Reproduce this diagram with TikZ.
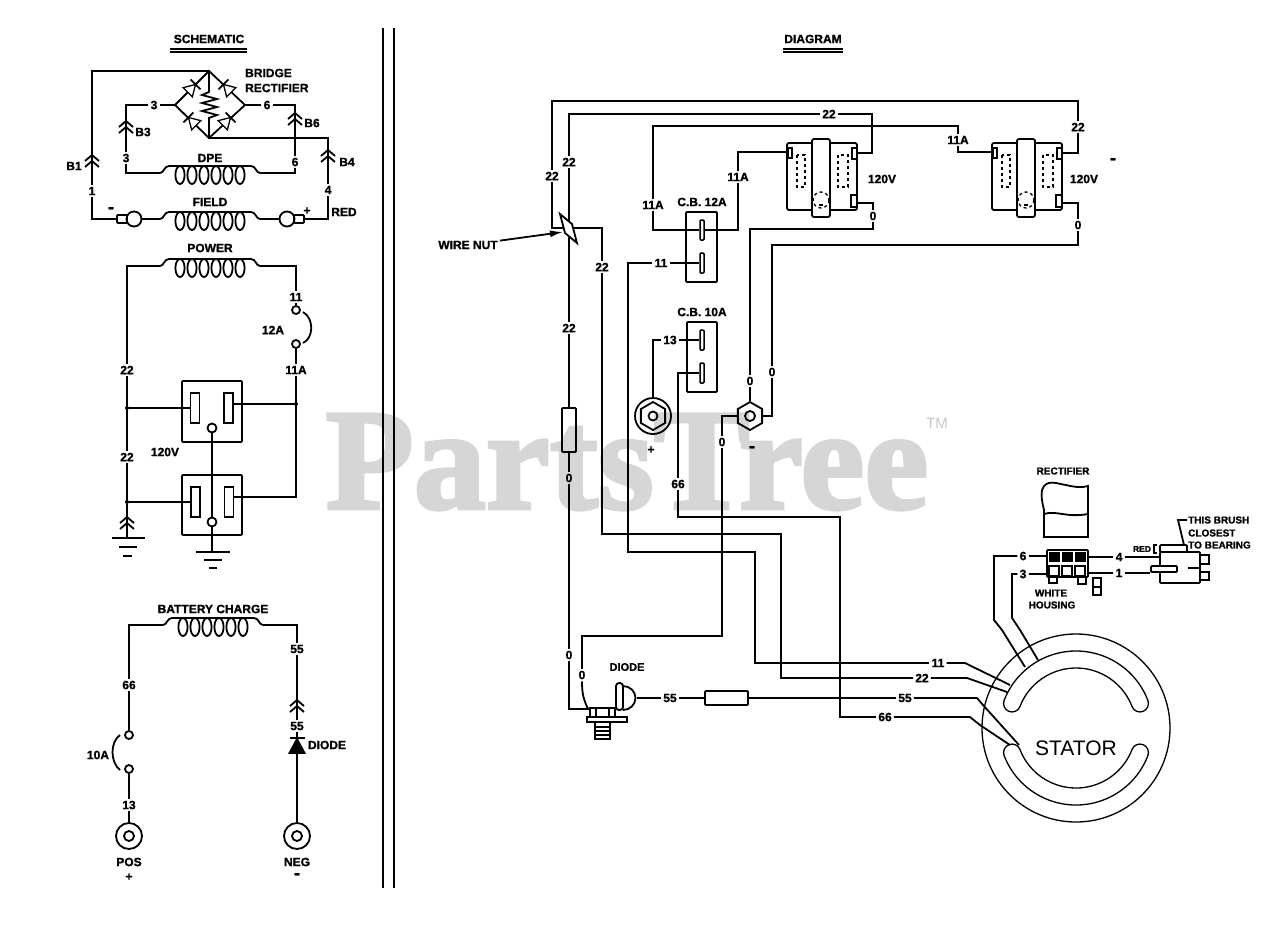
\documentclass[tikz,border=0pt]{standalone}
\usepackage{fontspec}
\setmainfont{Liberation Sans}[BoldFeatures={FakeBold=1.2}]
\newfontfamily\wmfont{Liberation Serif}[BoldFeatures={FakeBold=2.5}]
\usetikzlibrary{arrows.meta,shapes.geometric}
\tikzset{
  wire/.style={line width=1.8pt,line join=miter},
  thinw/.style={line width=1.3pt},
  lbl/.style={font=\bfseries\fontsize{12}{12}\selectfont,inner sep=2pt},
  sml/.style={font=\bfseries\fontsize{10}{10}\selectfont,inner sep=1pt},
  dashlbl/.style={font=\bfseries\fontsize{18}{18}\selectfont,inner sep=0pt},
  term/.style={circle,draw,line width=1.8pt,minimum size=8pt,inner sep=0pt},
  ringnode/.style={circle,draw,line width=1.8pt,minimum size=26pt,inner sep=0pt},
  jdot/.style={circle,fill,minimum size=4pt,inner sep=0pt},
  slotbox/.style={rectangle,draw,line width=1.8pt,minimum width=9pt,minimum height=30pt,inner sep=0pt},
  cbslot/.style={rectangle,draw,fill=white,line width=1.5pt,rounded corners=1pt,minimum width=4pt,minimum height=20pt,inner sep=0pt},
  boxnode/.style={rectangle,draw,line width=1.8pt,rounded corners=1pt,inner sep=0pt},
  hexnut/.style={regular polygon,regular polygon sides=6,shape border rotate=30,draw,line width=1.8pt,minimum size=28pt,inner sep=0pt},
  coil/.pic={
    \draw[wire] (-50,7) .. controls (-46,7) and (-46,0) .. (-41,0) -- (41,0) .. controls (46,0) and (46,7) .. (50,7);
    \foreach \cx in {-30,-18,-6,6,18,30} \draw[wire] (\cx,9) ellipse (4.6 and 9);
    \coordinate (-w) at (-50,7);
    \coordinate (-e) at (50,7);
  },
  plug/.pic={
    \draw[wire] (-7,1) -- (0,-5) -- (7,1) (-7,7) -- (0,1) -- (7,7);
  },
  brdiode/.pic={
    \draw[thinw,fill=white] (-6,-6.5) -- (5,0) -- (-6,6.5) -- cycle;
    \draw[wire] (5,-7) -- (5,7);
  },
  recep/.pic={
    \draw[wire,rounded corners=2pt] (0,0) rectangle (70,67);
    \draw[wire,rounded corners=2pt,fill=white] (25,-4) rectangle (43,74);
    \draw[thinw,fill=white] (1,5) rectangle (5,15);
    \draw[thinw,fill=white] (65,5) rectangle (70,16);
    \draw[wire,fill=white] (64,52) rectangle (70,64);
    \draw[thinw,dashed] (10,12) rectangle (18,44);
    \draw[thinw,dashed] (51,12) rectangle (61,44);
    \draw[thinw,dashed] (34,57) circle (8);
    \fill (32,61) rectangle (36,63);
    \coordinate (-a) at (0,9);
    \coordinate (-b) at (70,10);
    \coordinate (-c) at (70,60);
  }
}
\begin{document}
\begin{tikzpicture}[x=1pt,y=-1pt]
  \useasboundingbox (0,0) rectangle (1280,930);
  % watermark
  \node[text=black!16,font=\wmfont\bfseries\fontsize{144}{144}\selectfont,inner sep=0pt] (wmark) at (627,462) {PartsTree};
  \node[text=black!22,font=\fontsize{15}{15}\selectfont,inner sep=0pt] (wmtm) at (937,423) {TM};

  % divider
  \draw[line width=1.8pt] (383,28) -- (383,888);
  \draw[line width=1.8pt] (394,28) -- (394,888);

  % titles
  \node[lbl] (nSchem) at (209,39) {SCHEMATIC};
  \node[lbl] (nDiag) at (813,39) {DIAGRAM};
  \draw[thinw] (170,49) -- (247,49) (170,52) -- (247,52);
  \draw[thinw] (783,49) -- (843,49) (783,52) -- (843,52);

  % ---- schematic: bridge and field
  \coordinate (brT) at (209,71);
  \coordinate (brL) at (175,105);
  \coordinate (brR) at (245,105);
  \coordinate (brB) at (209,138);
  \draw[wire] (brT) -- (brL) -- (brB) -- (brR) -- cycle;
  \pic[rotate=45] (dA) at (192,88) {brdiode};
  \pic[rotate=135] (dB) at (227,88) {brdiode};
  \pic[rotate=135] (dC) at (192,121) {brdiode};
  \pic[rotate=45] (dD) at (227,121) {brdiode};
  \draw[wire] (brT) -- (209,92) -- (202,95) -- (217,99) -- (202,103) -- (217,107) -- (202,111) -- (217,115) -- (209,118) -- (brB);
  \node[lbl,anchor=west] (nBridge) at (243,73) {BRIDGE};
  \node[lbl,anchor=west] (nRect) at (243,88) {RECTIFIER};

  \node[lbl] (n3a) at (154,105) {3};
  \node[lbl] (n6a) at (267,105) {6};
  \node[lbl] (n3b) at (126,158) {3};
  \node[lbl] (n6b) at (295,162) {6};
  \node[lbl] (n1) at (92,191) {1};
  \node[lbl] (n4) at (328,190) {4};
  \node[lbl] (nB1) at (74,166) {B1};
  \node[lbl] (nB3) at (143,132) {B3};
  \node[lbl] (nB6) at (312,123) {B6};
  \node[lbl] (nB4) at (347,162) {B4};
  \node[lbl] (nDpe) at (210,158) {DPE};
  \node[lbl] (nField) at (210,202) {FIELD};
  \node[lbl] (nRed) at (344,212) {RED};
  \node[dashlbl] (nFm) at (111,210) {-};
  \node[lbl] (nFp) at (307,211) {+};

  \pic (cDpe) at (210,166) {coil};
  \pic (cField) at (210,212) {coil};
  \pic at (92,160) {plug};
  \pic at (126,126) {plug};
  \pic at (295,118) {plug};
  \pic at (328,155) {plug};

  \node[circle,draw,line width=1.8pt,minimum size=15pt,inner sep=0pt] (brushL) at (134,219) {};
  \node[circle,draw,line width=1.8pt,minimum size=15pt,inner sep=0pt] (brushR) at (287,219) {};
  \node[boxnode,minimum width=10pt,minimum height=8pt] (capL) at (122,219) {};
  \node[boxnode,minimum width=10pt,minimum height=8pt] (capR) at (299,219) {};

  \draw[wire] (brT) -- (92,71) -- (n1);
  \draw[wire] (n1) -- (92,219) -- (capL);
  \draw[wire] (brushL) -- (cField-w);
  \draw[wire] (cField-e) -- (brushR);
  \draw[wire] (capR) -- (328,219) -- (n4);
  \draw[wire] (n4) -- (328,138) -- (brB);
  \draw[wire] (brL) -- (n3a) -- (126,105) -- (n3b);
  \draw[wire] (n3b) -- (126,173) -- (cDpe-w);
  \draw[wire] (brR) -- (n6a) -- (295,105) -- (n6b);
  \draw[wire] (n6b) -- (295,173) -- (cDpe-e);

  % ---- schematic: power
  \node[lbl] (nPower) at (210,248) {POWER};
  \pic (cPower) at (210,259) {coil};
  \node[lbl] (n11s) at (296,297) {11};
  \node[term] (t11) at (296,310) {};
  \node[term] (t11a) at (296,344) {};
  \node[lbl] (n12a) at (273,330) {12A};
  \node[lbl] (n11as) at (296,370) {11A};
  \node[lbl] (n22u) at (127,370) {22};
  \node[lbl] (n22l) at (127,457) {22};
  \node[lbl] (n120s) at (165,452) {120V};
  \node[boxnode,minimum width=60pt,minimum height=61pt] (outA) at (212,411.5) {};
  \node[boxnode,minimum width=60pt,minimum height=60pt] (outB) at (212,505) {};
  \node[slotbox] (slAl) at (195,408) {};
  \node[slotbox] (slAr) at (228.5,408) {};
  \node[slotbox] (slBl) at (195.5,502) {};
  \node[slotbox] (slBr) at (229,502) {};
  \node[term,fill=white,minimum size=9pt] (gA) at (212,428) {};
  \node[term,fill=white,minimum size=9pt] (gB) at (212,522) {};
  \node[jdot] (jA) at (127,408) {};
  \node[jdot] (jB) at (127,502) {};
  \node[jdot] (jC) at (296,404) {};
  \coordinate (gndL) at (127,538);
  \coordinate (gndB) at (212,552);
  \pic at (127,522) {plug};

  \draw[wire] (cPower-w) -- (127,266) -- (n22u);
  \draw[wire] (n22u) -- (jA) -- (n22l);
  \draw[wire] (n22l) -- (jB) -- (gndL);
  \draw[wire] (cPower-e) -- (296,266) -- (n11s) -- (t11);
  \draw[wire] (t11a) -- (n11as);
  \draw[wire] (n11as) -- (296,497) -- (234,497);
  \draw[wire] (jA) -- (slAl);
  \draw[wire] (jB) -- (slBl);
  \draw[wire] (jC) -- (jC -| slAr.east);
  \draw[wire] (gA) -- (gB);
  \draw[wire] (gB) -- (gndB);
  \draw[wire] (303,312) .. controls (314,318) and (314,338) .. (303,343);
  \draw[wire] (112,538) -- (145,538);
  \draw[wire] (119,547) -- (137,547);
  \draw[wire] (123,556) -- (132,556);
  \draw[wire] (196,552) -- (230,552);
  \draw[wire] (204,560) -- (222,560);
  \draw[wire] (209,568) -- (217,568);

  % ---- schematic: battery charge
  \node[lbl] (nBatt) at (213,609) {BATTERY CHARGE};
  \pic (cBatt) at (213,618) {coil};
  \node[lbl] (n66s) at (129,685) {66};
  \node[term] (t10a) at (129,735) {};
  \node[term] (t10b) at (129,769) {};
  \node[lbl] (n10a) at (98,755) {10A};
  \node[lbl] (n13s) at (129,805) {13};
  \node[ringnode] (pos) at (129,836) {};
  \node[term,minimum size=10pt] (posin) at (129,836) {};
  \node[lbl] (nPos) at (129,862) {POS};
  \node[lbl] (nPlus) at (129,877) {+};
  \node[lbl] (n55a) at (297,649) {55};
  \node[lbl] (n55b) at (297,726) {55};
  \node[lbl] (nDiodeS) at (327,745) {DIODE};
  \node[ringnode] (neg) at (297,836) {};
  \node[term,minimum size=10pt] (negin) at (297,836) {};
  \node[lbl] (nNeg) at (297,862) {NEG};
  \node[dashlbl] (nMinus) at (297,876) {-};
  \coordinate (dTop) at (297,738);
  \coordinate (dBot) at (297,753);
  \pic at (297,705) {plug};
  \draw[wire,fill] (289.5,753) -- (304.5,753) -- (297,739) -- cycle;
  \draw[wire] (289.5,738) -- (304.5,738);

  \draw[wire] (cBatt-w) -- (129,625) -- (n66s) -- (t10a);
  \draw[wire] (t10b) -- (n13s) -- (pos);
  \draw[wire] (120,735) .. controls (110,742) and (110,762) .. (120,770);
  \draw[wire] (cBatt-e) -- (297,625) -- (n55a) -- (n55b) -- (dTop);
  \draw[wire] (neg) -- (dBot);

  % ---- diagram: outlets
  \pic (recA) at (787,143) {recep};
  \pic (recB) at (992,143) {recep};
  \node[lbl] (n120a) at (882,179) {120V};
  \node[lbl] (n120b) at (1084,179) {120V};
  \node[dashlbl] (nDash) at (1113,161) {-};

  % ---- diagram: breakers and posts
  \node[lbl] (nCb12) at (702,202) {C.B. 12A};
  \node[boxnode,minimum width=31pt,minimum height=70pt] (cb12) at (701.5,247) {};
  \node[cbslot] (cb12a) at (702,230) {};
  \node[cbslot] (cb12b) at (702,263) {};
  \node[lbl] (nCb10) at (702,312) {C.B. 10A};
  \node[boxnode,minimum width=30pt,minimum height=70pt] (cb10) at (702,357) {};
  \node[cbslot] (cb10a) at (702,340) {};
  \node[cbslot] (cb10b) at (702,373) {};
  \node[hexnut] (nutP) at (653,416) {};
  \node[circle,draw,line width=1.8pt,minimum size=36pt,inner sep=0pt] (ringP) at (653,416) {};
  \node[term,minimum size=9pt] (holeP) at (653,416) {};
  \node[hexnut] (nutM) at (750,416) {};
  \node[term,minimum size=10pt] (holeM) at (750,416) {};
  \node[lbl] (nPlusD) at (651,450) {+};
  \node[dashlbl] (nMinusD) at (752,449) {-};

  % ---- diagram: wire labels
  \node[lbl] (w22a) at (552,176) {22};
  \node[lbl] (w22b) at (569,162) {22};
  \node[lbl] (w22c) at (602,267) {22};
  \node[lbl] (w22d) at (569,328) {22};
  \node[lbl] (w22e) at (829,114) {22};
  \node[lbl] (w22f) at (1078,127) {22};
  \node[lbl] (w22g) at (922,678) {22};
  \node[lbl] (w11a) at (653,205) {11A};
  \node[lbl] (w11b) at (738,177) {11A};
  \node[lbl] (w11c) at (958,140) {11A};
  \node[lbl] (w11d) at (661,263) {11};
  \node[lbl] (w11e) at (938,663) {11};
  \node[lbl] (w13) at (670,340) {13};
  \node[lbl] (w66a) at (678,484) {66};
  \node[lbl] (w66b) at (885,717) {66};
  \node[lbl] (w55a) at (670,698) {55};
  \node[lbl] (w55b) at (905,698) {55};
  \node[lbl] (w0a) at (873,216) {0};
  \node[lbl] (w0b) at (1078,225) {0};
  \node[lbl] (w0c) at (750,381) {0};
  \node[lbl] (w0d) at (772,372) {0};
  \node[lbl] (w0e) at (722,442) {0};
  \node[lbl] (w0f) at (569,478) {0};
  \node[lbl] (w0g) at (569,655) {0};
  \node[lbl] (w0h) at (582,675) {0};
  \node[lbl] (nWnut) at (468,245) {WIRE NUT};
  \node[boxnode,minimum width=14pt,minimum height=44pt] (fuseA) at (569,430) {};
  \node[boxnode,minimum width=43pt,minimum height=14pt] (fuseB) at (726.5,698) {};
  \node[lbl,font=\bfseries\fontsize{11}{11}\selectfont] (nDiodeD) at (627,667) {DIODE};
  \coordinate (wnut) at (563,232);
  \coordinate (lugA) at (590,709);
  \coordinate (lugB) at (588,709);
  \coordinate (dome) at (637,698);

  % ---- diagram: wires
  \draw[wire] (w22a) -- (552,101) -- (1078,101) -- (w22f);
  \draw[wire] (w22f) -- (1078,153) -- (recB-b);
  \draw[wire] (w22a) -- (552,228) -- (602,228) -- (w22c);
  \draw[wire] (w22c) -- (602,534) -- (781,534) -- (781,678) -- (w22g);
  \draw[wire] (w22g) -- (967,678) -- (1007,692);
  \draw[wire] (w22b) -- (569,114) -- (w22e) -- (872,114) -- (872,153) -- (recA-b);
  \draw[wire] (w22b) -- (w22d);
  \draw[wire] (w22d) -- (fuseA);
  \draw[wire] (fuseA) -- (w0f);
  \draw[wire] (w0f) -- (w0g);
  \draw[wire] (w0g) -- (569,709) -- (lugA);
  \draw[wire] (cb12a) -- (653,230) -- (w11a);
  \draw[wire] (w11a) -- (653,126) -- (958,126) -- (w11c);
  \draw[wire] (w11c) -- (958,152) -- (recB-a);
  \draw[wire] (cb12a) -- (738,230) -- (w11b);
  \draw[wire] (w11b) -- (738,152) -- (recA-a);
  \draw[wire] (cb12b) -- (w11d) -- (628,263) -- (628,552) -- (755,552) -- (755,663) -- (w11e);
  \draw[wire] (w11e) -- (965,663) -- (1010,685);
  \draw[wire] (cb10a) -- (w13) -- (653,340) -- (ringP);
  \draw[wire] (cb10b) -- (678,373) -- (w66a);
  \draw[wire] (w66a) -- (678,517) -- (840,517) -- (840,717) -- (w66b);
  \draw[wire] (w66b) -- (970,717) -- (980,725) -- (1010,745);
  \draw[wire] (dome) -- (w55a) -- (fuseB);
  \draw[wire] (fuseB) -- (w55b);
  \draw[wire] (w55b) -- (977,698) -- (983,705) -- (1019,745);
  \draw[wire] (recA-c) -- (873,203) -- (w0a);
  \draw[wire] (w0a) -- (873,229) -- (750,229) -- (w0c);
  \draw[wire] (w0c) -- (nutM);
  \draw[wire] (recB-c) -- (1078,203) -- (w0b);
  \draw[wire] (w0b) -- (1078,245) -- (772,245) -- (w0d);
  \draw[wire] (w0d) -- (772,416) -- (nutM);
  \draw[wire] (nutM) -- (722,416) -- (w0e);
  \draw[wire] (w0e) -- (722,636) -- (582,636) -- (w0h);
  \draw[wire] (w0h) .. controls (582,695) and (584,700) .. (lugB);

  % wire nut
  \draw[wire,fill=white] (560,214) -- (572,224) -- (577,243) -- (565,233) -- cycle;
  \draw[-{Latex[length=13pt,width=7pt]},wire] (nWnut) -- (wnut);

  % diode and bolt
  \draw[wire] (587,717) -- (627,717) -- (627,722) -- (587,722) -- cycle;
  \draw[wire] (590,708) rectangle (615,717);
  \draw[thinw] (596,708) -- (596,717) (609,708) -- (609,717);
  \draw[wire] (595,722) rectangle (610,739);
  \draw[thinw] (595,727) -- (610,727) (595,731) -- (610,731) (595,735) -- (610,735);
  \draw[wire,rounded corners=3pt,fill=white] (616,683) rectangle (623,710);
  \draw[wire] (623,686) arc (-90:90:12.5 and 12);

  % ---- stator
  \coordinate (stc) at (1076,728);
  \draw[thinw] (stc) circle (94);
  \begin{scope}[shift={(1076,728)},thinw]
    \draw (-21:77) arc (-21:-159:77) arc (-159:-339:8.5) arc (-159:-21:60) arc (159:-21:8.5) -- cycle;
    \draw (21:77) arc (21:159:77) arc (159:339:8.5) arc (159:21:60) arc (-159:21:8.5) -- cycle;
  \end{scope}
  \node[font=\fontsize{21}{21}\selectfont,inner sep=0pt] (nStator) at (1076,748) {STATOR};

  % ---- rectifier housing and brush
  \node[sml] (nRectD) at (1063,471) {RECTIFIER};
  \draw[wire] (1042,490) .. controls (1046,478) and (1058,484) .. (1066,485) .. controls (1074,487) and (1082,488) .. (1088,486)
    -- (1088,537) -- (1044,537) -- (1044,510) .. controls (1042,502) and (1041,496) .. (1042,490);
  \draw[wire] (1044,514) .. controls (1056,510) and (1066,518) .. (1088,514);
  \node[lbl] (w6) at (1023,556) {6};
  \node[lbl] (w3) at (1023,574) {3};
  \node[lbl] (w4) at (1119,557) {4};
  \node[lbl] (w1) at (1119,573) {1};
  \node[boxnode,minimum width=41pt,minimum height=27pt] (hous) at (1067.5,563.5) {};
  \foreach \hx in {1049,1062,1075} \fill (\hx,552) rectangle +(11,10);
  \foreach \hx in {1049,1062,1075} \draw[wire] (\hx,566) rectangle +(10,10);
  \draw[wire] (1049,577) rectangle (1057,583);
  \draw[wire] (1078,577) rectangle (1086,584);
  \draw[wire] (1093,578) rectangle (1101,595);
  \draw[wire] (1093,587) -- (1101,587);
  \node[sml] (nWhite) at (1051,593) {WHITE};
  \node[sml] (nHous) at (1052,605) {HOUSING};
  \node[boxnode,minimum width=40pt,minimum height=31pt] (brush) at (1180,567.5) {};
  \node[boxnode,fill=white,minimum width=27pt,minimum height=7pt] (brTop) at (1173.5,548.5) {};
  \node[boxnode,fill=white,minimum width=26pt,minimum height=6pt] (brBar) at (1164,569) {};
  \draw[wire] (1200,555) rectangle (1209,564);
  \draw[wire] (1200,572) rectangle (1209,580);
  \draw[line width=2.5pt] (1188,568) -- (1200,568);
  \draw[wire] (1157,545) -- (1154,545) -- (1154,553) -- (1157,553);
  \node[sml,font=\bfseries\fontsize{8.5}{8.5}\selectfont] (nRedD) at (1142,549) {RED};
  \node[sml,anchor=west] (nThis) at (1187,520) {THIS BRUSH};
  \node[sml,anchor=west] (nClose) at (1187,533) {CLOSEST};
  \node[sml,anchor=west] (nBear) at (1187,545) {TO BEARING};
  \draw[wire] (nThis) -- (1178,520) -- (1184,545);

  \draw[wire] (w6) -- (994,556) -- (994,620) -- (1002,630) -- (1025,667);
  \draw[wire] (w3) -- (1012,574) -- (1012,618) -- (1020,630) -- (1038,660);
  \draw[wire] (w6) -- (hous.west |- w6);
  \draw[wire] (w3) -- (hous.west |- w3);
  \draw[wire] (w4) -- (hous.east |- w4);
  \draw[wire] (w1) -- (hous.east |- w1);
  \draw[wire] (w4) -- (brush.west |- w4);
  \draw[wire] (w1) -- (brBar.west |- w1);
\end{tikzpicture}
\end{document}
